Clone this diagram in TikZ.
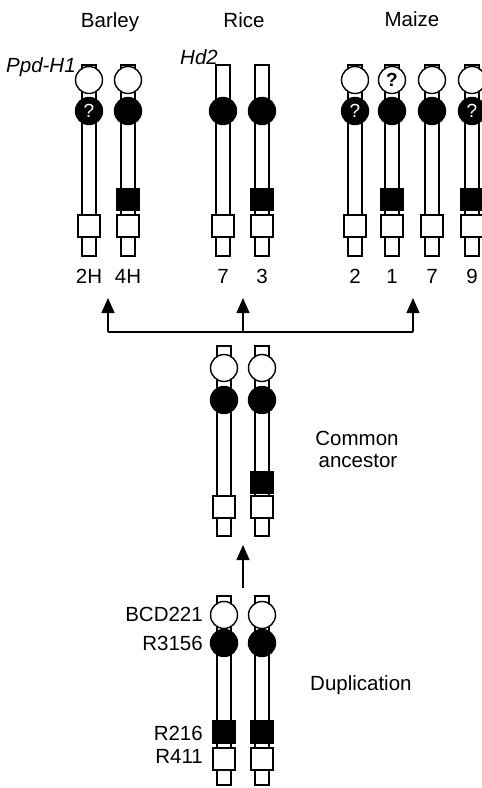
\documentclass[tikz,border=0pt]{standalone}
\usepackage{fontspec}
\setmainfont{Liberation Sans}
\usetikzlibrary{arrows.meta}
\tikzset{
  bar/.style={draw, fill=white, line width=1.4pt, minimum width=14pt, inner sep=0pt},
  wdot/.style={circle, draw, fill=white, line width=1.4pt, minimum size=27pt, inner sep=0pt, font=\fontsize{19}{19}\selectfont\bfseries},
  bdot/.style={circle, draw, fill=black, text=white, line width=1.4pt, minimum size=27pt, inner sep=0pt, font=\fontsize{19}{19}\selectfont},
  bsq/.style={rectangle, draw, fill=black, line width=1.4pt, minimum width=23pt, minimum height=22pt, inner sep=0pt},
  wsq/.style={rectangle, draw, fill=white, line width=1.4pt, minimum width=22pt, minimum height=22pt, inner sep=0pt},
  lbl/.style={font=\fontsize{20.5}{24}\selectfont, inner sep=0pt, anchor=base},
  conn/.style={line width=1.3pt},
  arr/.style={conn, -{Triangle[length=15pt,width=13pt]}}
}
\begin{document}
\begin{tikzpicture}[x=1pt,y=-1pt]
\useasboundingbox (0,0) rectangle (482,788);
% titles
\node[lbl] (barley) at (110,27) {Barley};
\node[lbl] (rice) at (244,27) {Rice};
\node[lbl] (maize) at (412,26) {Maize};
\node[lbl, anchor=base west, font=\fontsize{20.5}{24}\selectfont\itshape] (ppd) at (6,72) {Ppd-H1};
\node[lbl, anchor=base west, font=\fontsize{20.5}{24}\selectfont\itshape] (hd2) at (180,64) {Hd2};
% top row chromosomes
\foreach \n/\x/\w/\qw/\qb/\s/\lab in {c2H/89/1/0/1/0/2H, c4H/128/1/0/0/1/4H, r7/223/0/0/0/0/7, r3/262/0/0/0/1/3, m2/355/1/0/1/0/2, m1/392/1/1/0/1/1, m7/432/1/0/0/0/7, m9/472/1/0/1/1/9}{
  \node[bar, minimum height=191pt] (\n-bar) at (\x,160.5) {};
  \ifnum\w=1 \node[wdot] (\n-w) at (\x,80) {\ifnum\qw=1 ?\fi}; \fi
  \node[bdot] (\n-b) at (\x,111) {\ifnum\qb=1 ?\fi};
  \ifnum\s=1 \node[bsq] (\n-s) at (\x,199.5) {}; \fi
  \node[wsq] (\n-q) at (\x,226) {};
  \node[lbl] (\n-l) at (\x,283) {\lab};
}
% connectors to species
\coordinate (hL) at (108,332);
\coordinate (hM) at (243,332);
\coordinate (hR) at (413,332);
\coordinate (tL) at (108,298);
\coordinate (tM) at (243,298);
\coordinate (tR) at (413,298);
\draw[conn] (hL) -- (hR);
\draw[arr] (hL) -- (tL);
\draw[arr] (hM) -- (tM);
\draw[arr] (hR) -- (tR);
% common ancestor
\foreach \n/\x/\s in {a1/224/0, a2/262/1}{
  \node[bar, minimum height=190pt] (\n-bar) at (\x,441) {};
  \node[wdot] (\n-w) at (\x,368) {};
  \node[bdot] (\n-b) at (\x,400) {};
  \ifnum\s=1 \node[bsq] (\n-s) at (\x,482.5) {}; \fi
  \node[wsq] (\n-q) at (\x,507) {};
}
\node[lbl] (common) at (357,445) {Common};
\node[lbl] (ancestor) at (358,467) {ancestor};
% arrow duplication -> ancestor
\coordinate (dT) at (243,588);
\coordinate (dH) at (243,545);
\draw[arr] (dT) -- (dH);
% duplication
\foreach \n/\x in {d1/224, d2/262}{
  \node[bar, minimum height=189pt] (\n-bar) at (\x,690.5) {};
  \node[wdot] (\n-w) at (\x,615) {};
  \node[bdot] (\n-b) at (\x,643) {};
  \node[bsq] (\n-s) at (\x,732) {};
  \node[wsq] (\n-q) at (\x,759) {};
}
\node[lbl, anchor=base east] (bcd) at (203,621) {BCD221};
\node[lbl, anchor=base east] (r3156) at (203,650) {R3156};
\node[lbl, anchor=base east] (r216) at (203,740) {R216};
\node[lbl, anchor=base east] (r411) at (203,763) {R411};
\node[lbl, anchor=base west] (dup) at (310,690) {Duplication};
\end{tikzpicture}
\end{document}
